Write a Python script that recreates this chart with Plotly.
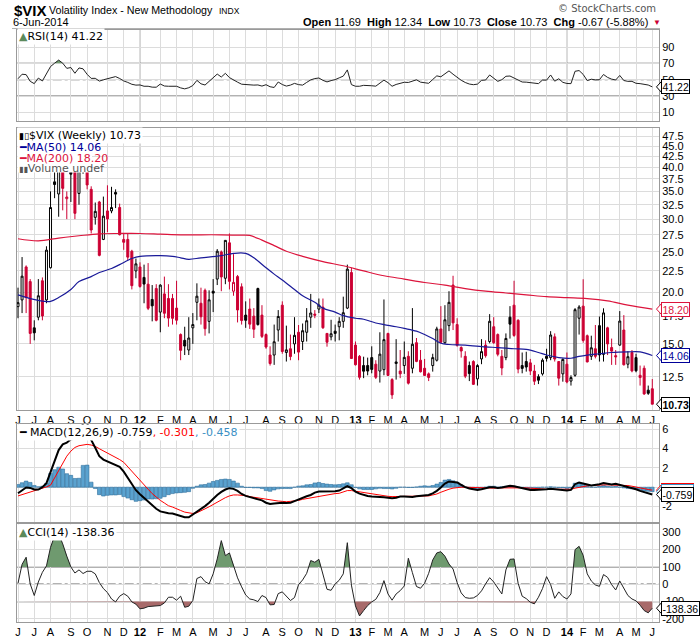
import math
import datetime as dt
import plotly.graph_objects as go

# ---------------------------------------------------------------- data
FIRST_WEEK = dt.date(2011, 6, 6)          # Monday of first weekly bar
N_BARS = 157
week_start = [FIRST_WEEK + dt.timedelta(weeks=i) for i in range(N_BARS)]
bar_idx = list(range(N_BARS))
PREV_CLOSE = 17.95                         # close of the week before the first bar

vix_open = [18.45, 19.15, 23.0, 21.2, 16.4, 17.4, 21.3, 19.15, 22.9, 36.9,
            34.5, 42.0, 33.6, 39.5, 39.0, 34.6, 41.5, 45.0, 35.4, 30.3,
            33.0, 26.8, 31.4, 31.4, 34.8, 32.0, 26.8, 26.8, 25.1, 22.5,
            23.0, 21.7, 20.9, 19.2, 20.4, 17.9, 19.8, 19.3, 19.3, 18.3,
            15.8, 15.3, 14.5, 16.4, 18.9, 18.8, 20.2, 17.0, 20.1, 21.5,
            25.0, 21.6, 26.3, 20.1, 21.8, 20.6, 17.6, 18.2, 17.5, 20.4,
            17.6, 15.8, 14.1, 14.1, 16.2, 18.6, 14.3, 14.6, 15.0, 16.0,
            15.2, 16.0, 17.4, 17.7, 18.2, 18.4, 15.9, 15.6, 16.1, 16.5,
            17.0, 18.3, 22.3, 14.9, 14.0, 13.3, 13.3, 13.9, 13.4, 12.9,
            13.0, 15.9, 12.3, 13.45, 12.9, 13.3, 14.0, 13.1, 15.1, 13.7,
            13.1, 12.7, 13.3, 13.7, 16.3, 15.1, 16.6, 20.8, 16.7, 14.7,
            14.0, 13.3, 13.6, 12.35, 13.8, 14.9, 15.2, 16.5, 15.8, 14.0,
            13.9, 17.4, 18.6, 17.1, 13.3, 13.6, 13.5, 12.9, 12.5, 12.7,
            14.0, 13.9, 15.6, 13.6, 12.7, 13.4, 12.2, 12.6, 17.3, 18.5,
            15.7, 14.0, 14.6, 16.6, 14.15, 16.4, 14.7, 14.05, 14.9, 16.2,
            13.4, 14.3, 13.9, 12.6, 13.1, 11.6, 11.69]
vix_high = [20.5, 24.3, 23.2, 21.5, 17.1, 21.5, 21.7, 25.8, 35.0, 48.0,
            44.0, 45.0, 35.0, 41.0, 40.0, 43.5, 43.5, 46.9, 36.0, 32.9,
            33.2, 34.0, 36.2, 35.9, 35.4, 32.7, 27.7, 27.7, 25.3, 24.1,
            23.6, 23.3, 23.5, 20.8, 20.9, 20.9, 21.8, 20.9, 19.8, 21.3,
            15.9, 16.5, 17.4, 17.8, 21.0, 20.5, 20.4, 20.2, 21.5, 25.4,
            25.2, 26.7, 27.7, 24.7, 22.0, 21.0, 19.0, 19.3, 18.3, 20.5,
            18.6, 15.9, 14.8, 16.7, 18.1, 19.0, 16.6, 15.8, 17.4, 16.66,
            16.8, 18.3, 19.8, 18.1, 19.3, 19.3, 15.9, 17.15, 16.7, 17.4,
            19.5, 23.3, 22.9, 15.2, 14.1, 13.97, 13.9, 14.8, 13.7, 16.0,
            19.2, 15.95, 12.4, 15.4, 14.5, 15.2, 14.4, 18.3, 15.5, 14.5,
            13.8, 12.8, 14.2, 16.5, 18.5, 18.6, 20.1, 21.9, 17.3, 14.8,
            14.4, 13.6, 13.7, 13.4, 15.4, 15.3, 17.7, 17.4, 15.9, 14.5,
            15.9, 18.5, 21.3, 17.2, 14.3, 14.36, 13.8, 13.35, 12.67, 13.84,
            14.6, 16.1, 15.9, 13.6, 13.84, 14.3, 12.6, 18.3, 18.6, 21.48,
            15.8, 15.7, 16.66, 17.46, 18.28, 16.5, 15.45, 14.5, 18.0, 17.6,
            14.4, 14.5, 14.2, 13.3, 13.3, 11.9, 12.34]
vix_low = [17.3, 17.8, 17.8, 15.0, 15.3, 17.1, 17.1, 18.8, 22.8, 33.7,
           30.4, 31.5, 30.0, 33.0, 30.0, 32.5, 38.6, 35.4, 27.7, 29.1,
           24.4, 26.7, 27.9, 31.0, 31.9, 27.4, 25.3, 23.9, 20.3, 21.6,
           20.5, 18.8, 18.1, 17.0, 17.0, 16.0, 17.3, 16.5, 16.7, 16.7,
           13.7, 14.1, 14.1, 15.0, 17.1, 16.7, 15.7, 15.9, 17.9, 20.8,
           20.1, 20.9, 20.3, 19.6, 16.9, 16.7, 16.4, 16.3, 15.5, 16.6,
           15.5, 14.6, 13.3, 13.35, 15.2, 14.2, 13.6, 13.7, 14.2, 13.7,
           14.5, 15.2, 16.4, 17.3, 17.8, 16.3, 14.77, 15.3, 15.2, 15.3,
           16.4, 18.2, 13.8, 13.3, 12.3, 12.4, 12.6, 12.74, 12.34, 12.1,
           12.6, 12.55, 11.05, 12.3, 12.4, 12.7, 11.97, 12.74, 13.55, 12.8,
           12.58, 12.2, 12.86, 13.6, 15.05, 15.0, 16.1, 16.2, 14.77, 13.9,
           12.4, 12.2, 11.94, 11.9, 13.4, 13.9, 15.05, 15.0, 14.0, 12.6,
           13.7, 15.45, 15.6, 12.74, 12.74, 12.86, 12.62, 11.94, 12.0, 12.58,
           13.6, 13.7, 13.6, 11.9, 12.16, 12.05, 11.9, 12.5, 15.8, 15.1,
           13.54, 13.72, 13.84, 13.6, 13.6, 14.1, 13.35, 13.35, 14.85, 13.3,
           13.1, 12.81, 12.81, 11.9, 11.3, 11.3, 10.73]
vix_close = [18.86, 21.85, 19.4, 15.9, 15.95, 19.6, 17.52, 25.25, 32.0, 36.36,
             43.05, 35.59, 33.92, 38.52, 30.98, 41.25, 42.96, 36.27, 28.24, 31.32,
             24.53, 30.5, 30.04, 32.0, 34.47, 27.52, 26.38, 24.29, 20.73, 23.4,
             20.63, 20.91, 18.28, 18.53, 17.1, 20.79, 17.78, 17.31, 17.29, 17.11,
             14.47, 14.82, 15.5, 16.7, 19.55, 17.44, 16.32, 19.16, 19.89, 25.1,
             21.76, 26.66, 21.23, 21.11, 18.11, 17.08, 17.1, 16.74, 16.27, 16.7,
             15.64, 14.74, 13.45, 15.18, 17.47, 14.38, 14.51, 13.98, 15.73, 14.33,
             16.14, 17.06, 17.81, 17.59, 18.61, 16.41, 15.14, 15.87, 15.9, 17.0,
             17.84, 22.72, 13.83, 13.36, 12.46, 12.89, 12.9, 13.02, 12.46, 14.17,
             15.36, 12.59, 11.3, 13.57, 12.7, 13.92, 12.06, 14.97, 13.61, 12.85,
             12.59, 12.45, 13.9, 16.3, 15.14, 17.15, 18.9, 16.86, 14.89, 14.42,
             12.54, 12.72, 11.98, 13.3, 14.37, 14.05, 17.01, 15.1, 14.16, 13.12,
             15.46, 16.74, 15.72, 13.04, 13.09, 13.19, 12.9, 12.19, 12.26, 13.7,
             13.84, 15.76, 13.79, 12.4, 13.76, 12.14, 12.44, 18.14, 18.41, 15.29,
             13.57, 14.68, 14.0, 14.11, 17.82, 15.0, 14.41, 13.96, 17.03, 13.36,
             13.97, 12.91, 12.92, 12.44, 11.36, 11.4, 10.73]

ma50_at = [0, 5, 8, 10, 13, 15, 18, 20, 23, 25, 28, 30, 35, 38, 40, 42, 45, 50, 53, 56,
           58, 61, 63, 65, 68, 70, 73, 75, 78, 80, 83, 85, 88, 90, 93, 95, 98, 100, 102, 104,
           106, 110, 115, 118, 122, 125, 128, 130, 133, 136, 138, 140, 143, 146, 150, 153, 156]
ma50_val = [19.7, 19.1, 19.0, 19.4, 20.3, 21.2, 21.8, 22.3, 22.8, 23.3, 24.1, 24.4, 24.5, 24.4, 24.2, 24.0, 24.2, 24.5, 24.8, 24.8,
            24.2, 22.9, 22.1, 21.4, 20.3, 19.6, 18.9, 18.3, 17.9, 17.55, 17.3, 17.2, 16.85, 16.7, 16.5, 16.35, 16.1, 15.8, 15.45, 15.05,
            14.95, 14.9, 14.75, 14.7, 14.6, 14.55, 14.3, 14.1, 13.9, 13.85, 14.0, 14.1, 14.2, 14.3, 14.35, 14.35, 14.06]
ma200_at = [0, 5, 10, 15, 20, 25, 30, 35, 40, 45, 50, 55, 57, 60, 63, 66, 70, 75, 80, 85,
            90, 95, 100, 105, 110, 115, 120, 125, 130, 135, 140, 145, 150, 156]
ma200_val = [26.9, 26.6, 27.0, 27.35, 27.65, 27.7, 27.7, 27.6, 27.5, 27.5, 27.5, 27.45, 27.4, 26.7, 25.9, 25.1, 24.4, 23.7, 23.15, 22.5,
             21.9, 21.5, 21.1, 20.8, 20.4, 20.1, 19.9, 19.7, 19.5, 19.4, 19.3, 19.05, 18.6, 18.2]

rsi14 = [51.2, 56.7, 56.2, 48.0, 45.2, 52.0, 48.5, 57.5, 66.1, 70.2,
         74.0, 70.2, 63.9, 64.9, 57.9, 64.4, 63.3, 56.6, 51.6, 51.7,
         48.3, 49.9, 51.2, 52.2, 53.8, 51.5, 48.5, 46.7, 44.4, 43.4,
         43.6, 42.0, 42.0, 40.9, 40.8, 44.7, 42.3, 42.0, 42.0, 42.0,
         40.0, 38.8, 40.2, 42.9, 49.2, 45.0, 43.5, 48.3, 52.8, 56.9,
         53.3, 57.8, 52.6, 50.3, 47.0, 44.5, 44.0, 43.9, 43.4, 43.6,
         42.2, 43.9, 41.4, 40.5, 47.2, 44.1, 42.2, 43.4, 45.5, 44.0,
         43.4, 46.7, 49.8, 51.4, 52.1, 49.2, 47.3, 48.9, 50.1, 52.3,
         54.4, 62.0, 44.0, 42.0, 42.0, 43.1, 43.2, 42.6, 42.1, 46.2,
         49.5, 46.4, 42.0, 44.2, 45.2, 46.9, 46.6, 48.7, 49.9, 47.0,
         46.3, 45.6, 50.3, 54.7, 53.6, 57.5, 60.8, 56.7, 52.5, 49.3,
         46.6, 44.7, 43.9, 44.6, 49.2, 49.6, 55.8, 51.8, 48.0, 50.0,
         54.2, 54.5, 51.8, 49.0, 47.2, 47.0, 46.3, 45.2, 45.2, 49.6,
         49.5, 55.8, 48.2, 51.2, 46.8, 45.4, 45.2, 60.3, 61.2, 56.5,
         48.9, 50.6, 49.8, 50.0, 56.4, 52.8, 50.7, 49.7, 55.2, 49.0,
         48.0, 48.0, 45.6, 45.2, 44.4, 43.5, 41.22]

macd_line = [-0.63, -0.31, -0.03, -0.07, -0.24, -0.24, 0.0, 0.42, 1.63, 2.75,
             3.83, 4.42, 4.59, 4.94, 5.0, 5.2, 6.6, 6.7, 4.87, 4.07,
             3.2, 2.85, 2.64, 2.5, 2.3, 2.09, 1.6, 0.97, 0.31, -0.31,
             -0.73, -1.11, -1.43, -1.88, -2.23, -2.5, -2.61, -2.68, -2.71, -2.85,
             -2.96, -3.1, -3.1, -2.82, -2.54, -2.23, -1.95, -1.6, -1.18, -0.8,
             -0.49, -0.24, -0.1, -0.17, -0.38, -0.7, -0.9, -1.0, -1.11, -1.22,
             -1.36, -1.6, -1.74, -1.67, -1.6, -1.6, -1.63, -1.6, -1.43, -1.25,
             -1.11, -0.94, -0.8, -0.56, -0.45, -0.45, -0.45, -0.45, -0.42, -0.35,
             -0.14, 0.1, -0.1, -0.45, -0.66, -0.8, -0.9, -0.97, -0.97, -0.97,
             -1.04, -1.08, -1.15, -1.08, -0.97, -0.97, -1.0, -1.0, -0.94, -0.87,
             -0.8, -0.8, -0.63, -0.38, -0.03, 0.38, 0.59, 0.56, 0.49, 0.24,
             0.0, -0.14, -0.21, -0.28, -0.21, -0.1, 0.0, 0.0, -0.07, -0.03,
             0.07, 0.14, 0.1, 0.0, -0.1, -0.21, -0.28, -0.28, -0.28, -0.21,
             -0.21, -0.17, -0.21, -0.24, -0.28, -0.35, -0.28, 0.31, 0.49, 0.42,
             0.28, 0.17, 0.21, 0.31, 0.42, 0.35, 0.28, 0.35, 0.24, 0.14,
             0.03, -0.07, -0.21, -0.38, -0.52, -0.66, -0.759]
macd_signal = [-0.9, -0.77, -0.66, -0.56, -0.42, -0.28, -0.1, 0.03, 0.21, 0.94,
               1.77, 2.54, 3.2, 3.72, 4.1, 4.28, 4.35, 4.42, 4.35, 4.21,
               3.97, 3.76, 3.48, 3.3, 3.1, 2.85, 2.57, 2.09, 1.6, 1.15,
               0.66, 0.21, -0.21, -0.66, -1.04, -1.36, -1.63, -1.91, -2.05, -2.26,
               -2.4, -2.57, -2.64, -2.71, -2.64, -2.47, -2.23, -2.02, -1.77, -1.5,
               -1.29, -1.08, -0.9, -0.8, -0.8, -0.8, -0.87, -0.97, -1.04, -1.15,
               -1.22, -1.25, -1.32, -1.39, -1.43, -1.46, -1.5, -1.46, -1.43, -1.36,
               -1.25, -1.18, -1.08, -1.0, -0.94, -0.83, -0.77, -0.73, -0.66, -0.63,
               -0.49, -0.35, -0.35, -0.42, -0.49, -0.56, -0.66, -0.73, -0.8, -0.87,
               -0.9, -0.94, -0.97, -0.97, -0.97, -0.97, -0.97, -0.97, -0.97, -0.97,
               -0.94, -0.9, -0.8, -0.7, -0.52, -0.35, -0.21, -0.1, -0.03, 0.0,
               0.0, -0.02, -0.03, -0.07, -0.1, -0.1, -0.1, -0.1, -0.07, -0.07,
               -0.03, 0.0, 0.0, 0.0, -0.03, -0.07, -0.1, -0.14, -0.17, -0.21,
               -0.21, -0.21, -0.21, -0.21, -0.21, -0.21, -0.21, -0.1, 0.0, 0.07,
               0.14, 0.17, 0.21, 0.21, 0.24, 0.24, 0.24, 0.24, 0.24, 0.21,
               0.17, 0.1, 0.0, -0.07, -0.14, -0.24, -0.301]

cci14 = [6, 115, 156, 2, -65, 13, 69, 106, 213, 279,
         290, 233, 162, 100, 65, 83, 62, 75, 75, 60,
         10, -25, -48, -85, -102, -69, -54, -69, -102, -115,
         -142, -138, -129, -127, -125, -123, -108, -75, -75, -92,
         -69, -133, -127, -94, 33, 44, 15, 2, 60, 146,
         252, 165, 181, 113, 37, -15, -62, -85, -90, -100,
         -65, -77, -119, -117, -54, -44, -69, -94, -77, -2,
         25, 63, 137, 127, 144, 63, -29, -35, 2, 23,
         60, 240, -5, -125, -183, -152, -123, -102, -87, -48,
         21, -56, -92, -56, -37, -10, 150, 67, -13, -23,
         6, 63, 140, 181, 188, 162, 117, 88, 10, -50,
         -77, -81, -79, -65, -38, 2, 38, 13, -21, -56,
         83, 144, 146, 6, -69, -83, -104, -113, -75, -25,
         44, -2, -81, -44, -71, -85, -56, 200, 219, 167,
         60, 19, -4, -12, 56, 40, -2, -33, 19, -25,
         -65, -85, -96, -121, -152, -165, -138.36]

main_ticks = [12.5, 15, 17.5, 20, 22.5, 25, 27.5, 30, 32.5, 35, 37.5, 40, 42.5, 45, 47.5]
rsi_ticks = [10, 30, 50, 70, 90]
macd_ticks = [-2, 0, 2, 4, 6]
cci_ticks = [-200, -100, 0, 100, 200, 300]
MONTH_LETTERS = "JFMAMJJASOND"

# ---------------------------------------------------------------- geometry / style
W, H = 700, 639
def fx(p): return p / W
def fy(p): return 1 - p / H

X_L, X_R = 16.7, 659.0
PANEL = {'y': (30, 121), 'y2': (128, 410), 'y3': (424, 522), 'y4': (524, 622)}
YR = {'y': [-0.5, 110.8], 'y2': [math.log10(10.39), math.log10(49.77)],
      'y3': [-3.59, 6.52], 'y4': [-218, 348]}
XR = [-0.32, 157.65]
RED = '#cc0033'
BLACK = '#000000'
GRID = '#dcdcdc'
YEARGRID = '#a8a8a8'
BORDER = '#9a9a9a'
AXF = 'Liberation Sans'
LGF = 'DejaVu Sans'

month_pos, month_txt, year_pos = [], [], []
for i, d in enumerate(week_start):
    if i == 0 or d.month != week_start[i - 1].month:
        month_pos.append(i)
        if d.month == 1:
            month_txt.append('<b>%02d</b>' % (d.year % 100))
            year_pos.append(i)
        else:
            month_txt.append(MONTH_LETTERS[d.month - 1])

fig = go.Figure()

def threshold_fill(xs, ys, thr, above, color, xa, ya):
    nx, ny = [], []
    for i in range(len(xs)):
        nx.append(xs[i]); ny.append(ys[i])
        if i + 1 < len(xs):
            a, b = ys[i] - thr, ys[i + 1] - thr
            if a * b < 0:
                t = a / (a - b)
                nx.append(xs[i] + t * (xs[i + 1] - xs[i])); ny.append(thr)
    clipped = [max(v, thr) if above else min(v, thr) for v in ny]
    fig.add_trace(go.Scatter(x=nx, y=[thr] * len(nx), mode='lines', line=dict(width=0),
                             xaxis=xa, yaxis=ya, hoverinfo='skip', showlegend=False))
    fig.add_trace(go.Scatter(x=nx, y=clipped, mode='lines', line=dict(width=0), fill='tonexty',
                             fillcolor=color, xaxis=xa, yaxis=ya, hoverinfo='skip', showlegend=False))

# ---- RSI panel
threshold_fill(bar_idx, rsi14, 70, True, '#6f9a6f', 'x', 'y')
threshold_fill(bar_idx, rsi14, 30, False, '#a86a6a', 'x', 'y')
fig.add_trace(go.Scatter(x=bar_idx, y=rsi14, mode='lines', line=dict(color='#222', width=1),
                         xaxis='x', yaxis='y', hoverinfo='skip', showlegend=False))

# ---- price panel: candles split by StockCharts colouring rules
groups = {}
for i in range(N_BARS):
    pc = vix_close[i - 1] if i > 0 else PREV_CLOSE
    col = RED if vix_close[i] < pc else BLACK
    filled = vix_close[i] < vix_open[i]
    groups.setdefault((col, filled), []).append(i)
for (col, filled), idx in groups.items():
    fillc = col if filled else '#ffffff'
    style = dict(line=dict(color=col, width=1), fillcolor=fillc)
    fig.add_trace(go.Candlestick(
        x=[bar_idx[i] for i in idx], open=[vix_open[i] for i in idx], high=[vix_high[i] for i in idx],
        low=[vix_low[i] for i in idx], close=[vix_close[i] for i in idx],
        increasing=style, decreasing=style, whiskerwidth=0, xaxis='x2', yaxis='y2',
        hoverinfo='skip', showlegend=False))
fig.add_trace(go.Scatter(x=ma200_at, y=ma200_val, mode='lines', line=dict(color='#dc143c', width=1.2, shape='spline'),
                         xaxis='x2', yaxis='y2', hoverinfo='skip', showlegend=False))
fig.add_trace(go.Scatter(x=ma50_at, y=ma50_val, mode='lines', line=dict(color='#1a1a99', width=1.2, shape='spline'),
                         xaxis='x2', yaxis='y2', hoverinfo='skip', showlegend=False))

# ---- MACD panel
macd_hist = [m - s for m, s in zip(macd_line, macd_signal)]
fig.add_trace(go.Bar(x=bar_idx, y=macd_hist, width=0.9, marker=dict(color='#5aa2cf', line=dict(color='#2f6f9c', width=0.6)),
                     xaxis='x3', yaxis='y3', hoverinfo='skip', showlegend=False))
fig.add_trace(go.Scatter(x=bar_idx, y=macd_signal, mode='lines', line=dict(color='#ff0000', width=1),
                         xaxis='x3', yaxis='y3', hoverinfo='skip', showlegend=False))
fig.add_trace(go.Scatter(x=bar_idx, y=macd_line, mode='lines', line=dict(color='#000', width=2),
                         xaxis='x3', yaxis='y3', hoverinfo='skip', showlegend=False))

# ---- CCI panel
threshold_fill(bar_idx, cci14, 100, True, '#6f9a6f', 'x4', 'y4')
threshold_fill(bar_idx, cci14, -100, False, '#a86a6a', 'x4', 'y4')
fig.add_trace(go.Scatter(x=bar_idx, y=cci14, mode='lines', line=dict(color='#222', width=1),
                         xaxis='x4', yaxis='y4', hoverinfo='skip', showlegend=False))

# ---------------------------------------------------------------- axes
def xcfg(anchor, labels):
    return dict(domain=[fx(X_L), fx(X_R)], range=XR, anchor=anchor, tickmode='array',
                tickvals=month_pos, ticktext=month_txt, showticklabels=labels,
                showgrid=True, gridcolor=GRID, gridwidth=1, zeroline=False,
                showline=True, mirror=True, linecolor=BORDER, linewidth=1, ticks='',
                tickfont=dict(family=AXF, size=11, color='#000'),
                rangeslider=dict(visible=False), fixedrange=True, automargin=False)

def ycfg(key, tv, tt, anchor, log=False):
    top, bot = PANEL[key]
    d = dict(domain=[fy(bot), fy(top)], range=YR[key], side='right', anchor=anchor,
             tickmode='array', tickvals=tv, ticktext=tt, showgrid=True, gridcolor=GRID,
             zeroline=False, showline=True, mirror=True, linecolor=BORDER, linewidth=1,
             ticks='', tickfont=dict(family=AXF, size=11, color='#000'),
             fixedrange=True, automargin=False)
    if log:
        d['type'] = 'log'
    return d

layout = dict(
    width=W, height=H, margin=dict(l=0, r=0, t=0, b=0),
    paper_bgcolor='white', plot_bgcolor='white', showlegend=False, boxgap=0.3,
    xaxis=xcfg('y', False), xaxis2=xcfg('y2', True), xaxis3=xcfg('y3', False), xaxis4=xcfg('y4', True),
    yaxis=ycfg('y', rsi_ticks, [str(v) for v in rsi_ticks], 'x'),
    yaxis2=ycfg('y2', main_ticks, ['%.1f' % v for v in main_ticks], 'x2', log=True),
    yaxis3=ycfg('y3', macd_ticks, [str(v) for v in macd_ticks], 'x3'),
    yaxis4=ycfg('y4', cci_ticks, [str(v) for v in cci_ticks], 'x4'),
)
fig.update_layout(**layout)

shapes = []
for yk in ['y', 'y2', 'y3', 'y4']:
    xk = 'x' if yk == 'y' else 'x' + yk[1:]
    for p in year_pos:
        shapes.append(dict(type='line', xref=xk, yref=yk + ' domain', x0=p, x1=p, y0=0, y1=1,
                           line=dict(color=YEARGRID, width=1), layer='below'))
for lv, dash in [(70, 'solid'), (30, 'solid'), (50, 'dashdot')]:
    shapes.append(dict(type='line', xref='x domain', yref='y', x0=0, x1=1, y0=lv, y1=lv,
                       line=dict(color='#666', width=1.3, dash=dash), layer='below'))
for lv, dash in [(100, 'solid'), (-100, 'solid'), (0, 'dashdot')]:
    shapes.append(dict(type='line', xref='x4 domain', yref='y4', x0=0, x1=1, y0=lv, y1=lv,
                       line=dict(color='#666', width=1.3, dash=dash), layer='below'))
shapes.append(dict(type='line', xref='paper', yref='paper', x0=fx(12), x1=fx(660), y0=fy(28.5), y1=fy(28.5),
                   line=dict(color='#b0b0b0', width=1)))
shapes.append(dict(type='rect', xref='paper', yref='paper', x0=fx(17.5), x1=fx(92), y0=fy(172.5), y1=fy(129),
                   fillcolor='white', line=dict(width=0), layer='above'))

ann = []
def txt(x, y, text, size=11, family=AXF, color='#000', xanchor='left', bg=None):
    a = dict(xref='paper', yref='paper', x=fx(x), y=fy(y), text=text, showarrow=False,
             xanchor=xanchor, yanchor='middle', font=dict(family=family, size=size, color=color))
    if bg:
        a['bgcolor'] = bg
    ann.append(a)

# header
txt(12, 10, '<b>$VIX</b>', size=15)
txt(47, 10, 'Volatility Index - New Methodology', size=10.7)
txt(217, 10.5, 'INDX', size=8.5)
txt(11, 22, '6-Jun-2014', size=11)
txt(658, 9, '© StockCharts.com', size=10, family=LGF, color='#555', xanchor='right')
txt(650, 22, '<b>Open</b> 11.69  <b>High</b> 12.34  <b>Low</b> 10.73  <b>Close</b> 10.73  <b>Chg</b> -0.67 (-5.88%)',
    size=11, xanchor='right')
txt(651, 22, '▼', size=8, color=RED)

# panel legends
txt(17, 37, '<span style="color:#5b8a5b">▲</span>RSI(14) 41.22', size=11, family=LGF, bg='white')
txt(17, 135.5, '<span style="font-size:9px">▮▯</span>$VIX (Weekly) 10.73', size=11, family=LGF, bg='white')
txt(17, 147, '━MA(50) 14.06', size=11, family=LGF, color='#000099')
txt(17, 158, '━MA(200) 18.20', size=11, family=LGF, color='#dc143c')
txt(17, 168, '<span style="font-size:8px">▮▮</span>Volume undef', size=11, family=LGF, color='#555')
txt(17, 432, '━ MACD(12,26,9) -0.759<span style="color:#ff0000">, -0.301</span>'
             '<span style="color:#3b8fc4">, -0.458</span>', size=11, family=LGF, bg='white')
txt(17, 532, '<span style="color:#5b8a5b">▲</span>CCI(14) -138.36', size=11, family=LGF, bg='white')

# value tags (box + small pointer) on the right
def value_px(key, v, log=False):
    top, bot = PANEL[key]
    lo, hi = YR[key]
    vv = math.log10(v) if log else v
    return top + (hi - vv) / (hi - lo) * (bot - top)

def tag(key, yval, text, color, bold=False, log=False):
    ypx = value_px(key, yval, log)
    shapes.append(dict(type='path', xref='paper', yref='paper',
                       path='M %f %f L %f %f L %f %f Z' % (fx(656.5), fy(ypx), fx(661.5), fy(ypx - 5.5),
                                                            fx(661.5), fy(ypx + 5.5)),
                       fillcolor='white', line=dict(color=color, width=1), layer='above'))
    ann.append(dict(xref='paper', yref='paper', x=fx(661), y=fy(ypx), text=('<b>%s</b>' % text) if bold else text,
                    showarrow=False, xanchor='left', yanchor='middle', bgcolor='white',
                    bordercolor=color, borderwidth=1, borderpad=0.5,
                    font=dict(family=AXF, size=10.5, color=color)))

tag('y', rsi14[-1], '%.2f' % rsi14[-1], '#000')
tag('y2', ma200_val[-1], '%.2f' % ma200_val[-1], '#dc143c', log=True)
tag('y2', ma50_val[-1], '%.2f' % ma50_val[-1], '#000099', log=True)
tag('y2', vix_close[-1], '%.2f' % vix_close[-1], '#000', bold=True, log=True)
tag('y3', macd_signal[-1], '%.3f' % macd_signal[-1], '#ff0000')
tag('y3', macd_hist[-1], '%.3f' % macd_hist[-1], '#3b8fc4')
tag('y3', macd_line[-1], '%.3f' % macd_line[-1], '#000')
tag('y4', cci14[-1], '%.2f' % cci14[-1], '#000')

fig.update_layout(shapes=shapes, annotations=ann)
fig.write_html("out.html", config={'displayModeBar': False, 'staticPlot': True},
               post_script="document.body.style.margin='0px';document.body.style.overflow='hidden';")
